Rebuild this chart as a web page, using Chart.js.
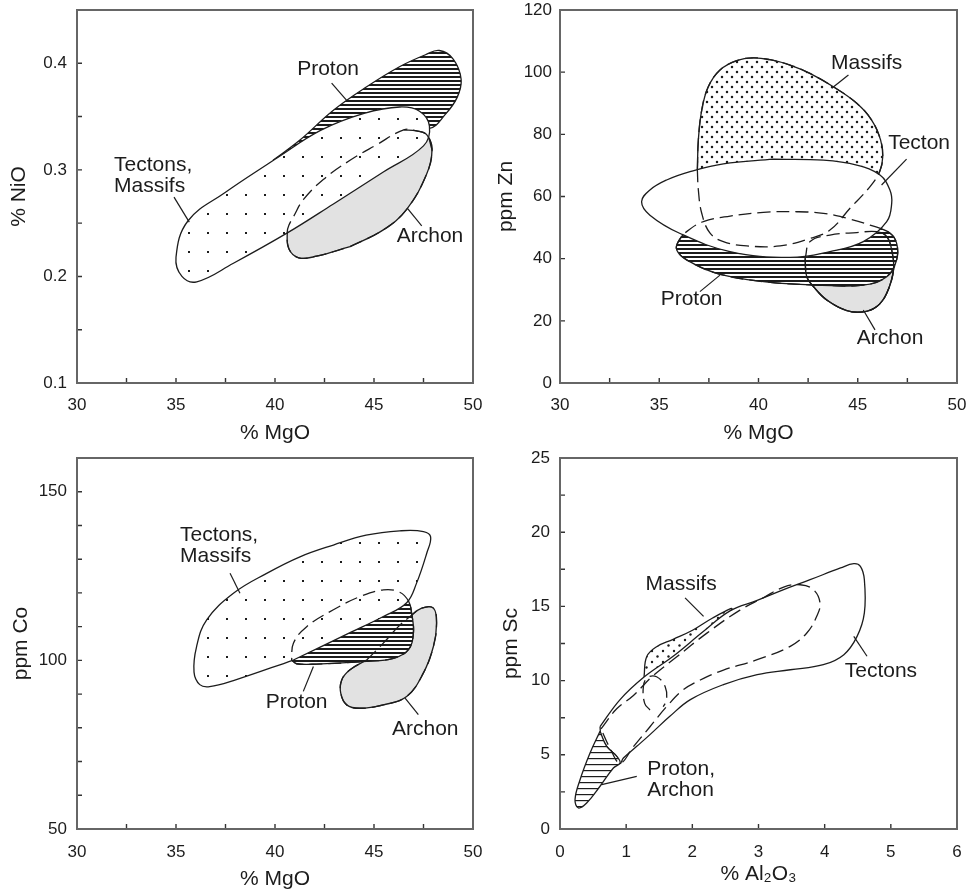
<!DOCTYPE html>
<html>
<head>
<meta charset="utf-8">
<script src="https://cdn.jsdelivr.net/npm/chart.js@4.4.1/dist/chart.umd.min.js"></script>
<style>
  html, body { margin: 0; padding: 0; background: #fff; overflow: hidden; }
  .panel { position: absolute; }
</style>
</head>
<body>
<div class="panel" style="left:0;top:0;width:485px;height:446px"><canvas id="c1"></canvas></div>
<div class="panel" style="left:485px;top:0;width:485px;height:446px"><canvas id="c2"></canvas></div>
<div class="panel" style="left:0;top:440px;width:485px;height:452px"><canvas id="c3"></canvas></div>
<div class="panel" style="left:485px;top:440px;width:485px;height:452px"><canvas id="c4"></canvas></div>
<script>
// ---- panel 1: % MgO vs % NiO ----
const p1Proton = [[39.9,0.309],[41.26,0.328],[42.95,0.356],[44.63,0.378],[46.31,0.397],[47.6,0.408],[48.3,0.412],[49.0,0.404],[49.4,0.385],[49.2,0.368],[48.6,0.352],[47.8,0.339],[46.0,0.343],[43.5,0.333],[41.5,0.320]];
const p1Tectons = [[40.0,0.310],[42.3,0.337],[44.5,0.353],[46.3,0.359],[47.3,0.355],[47.8,0.341],[47.5,0.3225],[45.47,0.298],[42.95,0.268],[40.6,0.2406],[37.9,0.2124],[36.05,0.195],[35.3,0.200],[35.0,0.218],[35.6,0.252],[37.5,0.279]];
const p1Archon = [[43.79,0.228],[45.47,0.2437],[46.65,0.263],[47.66,0.296],[47.93,0.319],[47.66,0.333],[47.15,0.3365],[46.5,0.3375],[45.13,0.3235],[43.79,0.309],[42.44,0.291],[41.43,0.272],[40.93,0.256],[40.7,0.248],[40.62,0.242],[40.7,0.226],[41.2,0.2175],[42.1,0.219]];
const p1ArchonTop = [[46.5,0.3375],[47.15,0.3365],[47.66,0.333],[47.93,0.319]];
const p1Notes = [
  {text: ['Proton'], x: 42.68, y: 0.394, align: 'center'},
  {text: ['Tectons,', 'Massifs'], x: 31.87, y: 0.304, align: 'left'},
  {text: ['Archon'], x: 47.83, y: 0.2374, align: 'center'}
];
const p1Leaders = [
  [[42.86,0.3814],[43.62,0.3651]],
  [[34.9,0.2744],[35.67,0.2509]],
  [[46.68,0.264],[47.41,0.2474]]
];

// ---- panel 2: % MgO vs ppm Zn ----
const p2Massifs = [[36.92,68.5],[36.97,78.2],[37.14,87.8],[37.47,95.3],[38.06,100.7],[38.9,103.7],[39.74,104.6],[40.58,104.0],[41.59,102.3],[42.59,99.6],[43.77,95.3],[44.95,90.0],[45.7,84.6],[46.15,78.2],[46.26,72.8],[46.1,68.0],[45.62,63.2],[44.61,56.2],[43.6,49.2],[42.6,46.5],[41.09,44.1],[39.41,44.1],[38.23,45.5],[37.56,48.2],[37.14,54.6],[36.97,62.1]];
const p2Tecton = [[40.75,72.0],[43.27,71.7],[44.95,70.1],[46.12,66.9],[46.62,62.1],[46.71,57.8],[46.46,51.9],[45.28,45.5],[43.6,42.3],[41.59,40.4],[38.56,42.3],[36.05,48.1],[34.53,54.0],[34.11,58.3],[34.53,62.1],[35.37,65.3],[36.55,68.0],[38.23,70.5]];
const p2Proton = [[42.77,31.5],[45.29,31.5],[46.46,34.2],[46.96,39.6],[46.96,44.9],[46.63,48.2],[45.62,50.8],[44.45,53.0],[43.27,54.6],[41.93,55.1],[40.25,54.9],[38.57,53.7],[37.22,51.9],[36.38,48.7],[35.96,45.5],[35.88,42.8],[36.38,39.6],[37.9,35.3],[40.25,32.6]];
const p2Archon = [[42.35,40.1],[42.43,34.2],[42.77,31.0],[43.44,26.7],[44.45,23.3],[45.29,22.9],[45.96,24.6],[46.46,28.9],[46.8,36.4],[46.71,42.8],[46.46,47.1],[45.96,48.7],[44.95,48.4],[43.6,47.6],[42.6,45.5]];
const p2Notes = [
  {text: ['Massifs'], x: 45.45, y: 102.9, align: 'center'},
  {text: ['Tecton'], x: 48.09, y: 77.1, align: 'center'},
  {text: ['Proton'], x: 36.63, y: 27.0, align: 'center'},
  {text: ['Archon'], x: 46.63, y: 14.4, align: 'center'}
];
const p2Leaders = [
  [[43.69,94.8],[44.53,99.1]],
  [[47.46,72.0],[46.2,63.7]],
  [[37.05,29.4],[38.06,34.7]],
  [[45.87,17.1],[45.28,23.5]]
];

// ---- panel 3: % MgO vs ppm Co ----
const p3Tectons = [[40.93,100.1],[43.79,108.2],[45.47,113.0],[46.65,117.1],[47.15,122.9],[47.66,131.7],[47.86,136.6],[47.5,138.2],[46.3,138.4],[44.6,137.1],[42.95,134.2],[41.26,130.7],[39.58,125.8],[37.9,119.9],[36.55,112.0],[36.04,104.1],[35.91,96.5],[36.2,92.8],[36.7,92.2],[37.9,94.0]];
const p3Proton = [[40.84,100.1],[41.09,99.0],[42.1,98.9],[44.63,99.7],[45.98,100.6],[46.73,103.1],[46.99,108.0],[46.9,114.0],[46.75,117.5],[46.3,120.2],[45.47,120.9],[44.29,118.9],[42.95,115.0],[41.6,110.0],[40.93,105.1]];
const p3Archon = [[44.63,100.1],[45.47,105.1],[46.23,110.0],[46.82,113.0],[47.41,115.5],[48.0,115.5],[48.16,111.0],[48.0,104.1],[47.49,96.2],[46.65,89.3],[45.47,86.8],[44.29,85.8],[43.62,86.8],[43.32,90.3],[43.37,94.2],[43.79,97.2]];
const p3Notes = [
  {text: ['Tectons,', 'Massifs'], x: 35.2, y: 137.2, align: 'left'},
  {text: ['Proton'], x: 41.09, y: 87.6, align: 'center'},
  {text: ['Archon'], x: 47.59, y: 79.7, align: 'center'}
];
const p3Leaders = [
  [[37.73,125.8],[38.23,119.9]],
  [[41.43,90.8],[41.94,98.2]],
  [[46.57,88.8],[47.24,83.9]]
];

// ---- panel 4: % Al2O3 vs ppm Sc ----
const p4Massifs = [[1.27,10.26],[1.31,11.61],[1.46,12.28],[1.71,12.78],[2.01,13.41],[2.3,14.2],[2.6,14.85],[2.3,13.6],[1.9,12.0],[1.5,10.6],[1.3,10.0]];
const p4Tectons = [[0.605,6.9],[0.908,8.72],[1.27,10.24],[1.71,11.64],[2.17,13.32],[2.57,14.7],[2.98,15.4],[3.38,16.13],[3.78,16.8],[4.24,17.59],[4.44,17.88],[4.54,17.7],[4.60,16.8],[4.60,14.56],[4.49,12.98],[4.29,11.75],[3.98,11.07],[3.48,10.73],[2.98,10.4],[2.47,9.73],[1.97,8.72],[1.66,7.59],[1.36,6.36],[1.16,5.57],[0.958,4.78],[0.908,4.4],[0.857,4.9],[0.706,5.57],[0.62,6.3]];
const p4ProtonArchon = [[0.605,6.58],[0.454,5.12],[0.303,3.32],[0.227,1.98],[0.277,1.42],[0.403,1.75],[0.605,2.88],[0.807,4.11],[0.908,4.45],[0.857,4.9],[0.706,5.57]];
const p4MassifsDash = [[0.62,6.75],[0.857,8.1],[1.11,9.0],[1.4,10.3],[1.765,11.6],[2.22,13.2],[2.72,14.75],[3.08,15.6],[3.38,16.3],[3.63,16.46],[3.83,16.13],[3.93,15.23],[3.88,14.33],[3.73,13.21],[3.48,12.31],[2.98,11.41],[2.47,10.71],[2.12,10.04],[1.86,9.37],[1.61,8.24],[1.36,6.89],[1.11,5.55],[0.908,4.45],[0.75,5.5]];
const p4SmallDash = [[1.36,8.02],[1.28,8.47],[1.26,9.59],[1.32,10.2],[1.46,10.26],[1.59,9.59],[1.61,8.69],[1.56,8.24]];
const p4Notes = [
  {text: ['Massifs'], x: 1.83, y: 16.51, align: 'center'},
  {text: ['Tectons'], x: 4.85, y: 10.62, align: 'center'},
  {text: ['Proton,', 'Archon'], x: 1.32, y: 4.0, align: 'left'}
];
const p4Leaders = [
  [[1.89,15.57],[2.17,14.33]],
  [[4.64,11.64],[4.44,12.98]],
  [[1.16,3.55],[0.63,2.99]]
];

const INK = '#1c1c1c';
const FONT = '"Liberation Sans", Arial, Helvetica, sans-serif';
const GRAY = '#e2e2e2';

function makePattern(w, h, draw) {
  const c = document.createElement('canvas');
  c.width = w; c.height = h;
  const g = c.getContext('2d');
  g.fillStyle = '#fff';
  g.fillRect(0, 0, w, h);
  g.fillStyle = INK;
  draw(g);
  return g.createPattern(c, 'repeat');
}
const hatch = makePattern(4, 4, g => g.fillRect(0, 0, 4, 2));
const hatchThin = makePattern(6, 6, g => g.fillRect(0, 0, 6, 1.2));
const sparseDots = (ox, oy) => makePattern(19, 19, g => g.fillRect(ox, oy, 2, 2));
const denseDots = (s, r) => makePattern(s, s, g => {
  g.beginPath(); g.arc(2, 2, r, 0, Math.PI * 2); g.fill();
  g.beginPath(); g.arc(2 + s / 2, 2 + s / 2, r, 0, Math.PI * 2); g.fill();
});

function toXY(pts) { return pts.map(p => ({x: p[0], y: p[1]})); }

function area(pts, fill) {
  return {data: toXY(pts.concat([pts[0]])), showLine: true, pointRadius: 0, borderColor: INK,
    borderWidth: 1.3, tension: 0.4, fill: 'shape', backgroundColor: fill};
}
function outline(pts, closed, dashed) {
  return {data: toXY(closed ? pts.concat([pts[0]]) : pts), showLine: true, pointRadius: 0,
    borderColor: INK, borderWidth: 1.3, tension: 0.4, fill: false,
    backgroundColor: 'transparent', borderDash: dashed ? [13, 6] : []};
}
function leaders(list) {
  return list.map(l => ({data: toXY(l), showLine: true, pointRadius: 0, borderColor: INK,
    borderWidth: 1.2, tension: 0, fill: false}));
}

const framePlugin = {
  id: 'frame',
  afterDraw(chart) {
    const {ctx, chartArea: a, scales: {x, y}} = chart;
    ctx.save();
    ctx.strokeStyle = '#333';
    ctx.lineWidth = 1.4;
    ctx.beginPath();
    x.ticks.forEach(t => {
      const px = x.getPixelForValue(t.value);
      ctx.moveTo(px, a.bottom); ctx.lineTo(px, a.bottom - 5);
    });
    y.ticks.forEach(t => {
      const py = y.getPixelForValue(t.value);
      ctx.moveTo(a.left, py); ctx.lineTo(a.left + 5, py);
    });
    ctx.stroke();
    ctx.strokeStyle = '#666';
    ctx.lineWidth = 2;
    ctx.strokeRect(a.left, a.top, a.right - a.left, a.bottom - a.top);
    ctx.restore();
  }
};

const notesPlugin = {
  id: 'notes',
  afterDatasetsDraw(chart, args, opts) {
    const {ctx, scales: {x, y}} = chart;
    ctx.save();
    ctx.fillStyle = INK;
    ctx.font = '21px ' + FONT;
    ctx.textBaseline = 'middle';
    (opts.items || []).forEach(n => {
      ctx.textAlign = n.align;
      const px = x.getPixelForValue(n.x);
      const py = y.getPixelForValue(n.y);
      n.text.forEach((line, i) => ctx.fillText(line, px, py + i * 21));
    });
    ctx.restore();
  }
};

function buildChart(id, p) {
  const layers = p.layers;
  return new Chart(document.getElementById(id), {
    type: 'scatter',
    data: {datasets: layers.map((d, i) => Object.assign({order: layers.length - i}, d))},
    options: {
      responsive: true,
      maintainAspectRatio: false,
      animation: false,
      events: [],
      layout: {padding: {top: p.padTop, right: p.padRight, left: 0, bottom: 0}},
      plugins: {legend: {display: false}, tooltip: {enabled: false}, notes: {items: p.notes}},
      scales: {
        x: {
          type: 'linear', min: p.xMin, max: p.xMax,
          afterFit: s => { s.height = p.xAxisH; s.paddingLeft = 0; s.paddingRight = 0; },
          grid: {display: false, drawTicks: false},
          border: {display: false},
          ticks: {stepSize: p.xStep, autoSkip: false, maxRotation: 0, padding: p.xPad,
            color: INK, font: {family: FONT, size: 17}, callback: p.xFmt},
          title: {display: true, text: p.xTitle, color: INK, font: {family: FONT, size: 21},
            padding: {top: 0, bottom: p.xTitlePad}}
        },
        y: {
          type: 'linear', min: p.yMin, max: p.yMax,
          afterFit: s => { s.width = p.yAxisW; s.paddingTop = 0; s.paddingBottom = 0; },
          grid: {display: false, drawTicks: false},
          border: {display: false},
          ticks: {stepSize: p.yStep, autoSkip: false, padding: p.yPad,
            color: INK, font: {family: FONT, size: 17}, callback: p.yFmt},
          title: {display: true, text: p.yTitle, color: INK, font: {family: FONT, size: 21},
            padding: {top: p.yTitlePad, bottom: 0}}
        }
      }
    },
    plugins: [framePlugin, notesPlugin]
  });
}

const mgoFmt = v => (Math.round(v * 10) % 50 === 0 ? String(Math.round(v)) : '');

buildChart('c1', {
  padTop: 10, padRight: 12, yAxisW: 77, xAxisH: 63,
  xMin: 30, xMax: 50, xStep: 2.5, xFmt: mgoFmt, xPad: 12, xTitle: '% MgO', xTitlePad: 0,
  yMin: 0.1, yMax: 0.45, yStep: 0.05, yPad: 10, yTitle: '% NiO', yTitlePad: 7,
  yFmt: v => (Math.round(v * 100) % 10 === 0 ? v.toFixed(1) : ''),
  notes: p1Notes,
  layers: [
    area(p1Proton, hatch),
    area(p1Archon, GRAY),
    area(p1Tectons, sparseDots(17, 4)),
    outline(p1Archon, true, true),
    outline(p1ArchonTop, false, false)
  ].concat(leaders(p1Leaders))
});

buildChart('c2', {
  padTop: 10, padRight: 13, yAxisW: 75, xAxisH: 63,
  xMin: 30, xMax: 50, xStep: 2.5, xFmt: mgoFmt, xPad: 12, xTitle: '% MgO', xTitlePad: 0,
  yMin: 0, yMax: 120, yStep: 20, yPad: 8, yTitle: 'ppm Zn', yTitlePad: 9,
  yFmt: v => String(v),
  notes: p2Notes,
  layers: [
    area(p2Massifs, denseDots(10, 1.25)),
    area(p2Archon, GRAY),
    area(p2Proton, hatch),
    outline(p2Archon, true, false),
    area(p2Tecton, '#fff'),
    outline(p2Massifs, true, true),
    outline(p2Proton, true, true),
    outline(p2Archon, true, true)
  ].concat(leaders(p2Leaders))
});

buildChart('c3', {
  padTop: 18, padRight: 12, yAxisW: 77, xAxisH: 63,
  xMin: 30, xMax: 50, xStep: 2.5, xFmt: mgoFmt, xPad: 13, xTitle: '% MgO', xTitlePad: 0,
  yMin: 50, yMax: 160, yStep: 10, yPad: 10, yTitle: 'ppm Co', yTitlePad: 9,
  yFmt: v => (v % 50 === 0 ? String(v) : ''),
  notes: p3Notes,
  layers: [
    area(p3Archon, GRAY),
    area(p3Proton, hatch),
    outline(p3Archon, true, true),
    area(p3Tectons, sparseDots(17, 7)),
    outline(p3Proton, true, true)
  ].concat(leaders(p3Leaders))
});

buildChart('c4', {
  padTop: 18, padRight: 13, yAxisW: 75, xAxisH: 63,
  xMin: 0, xMax: 6, xStep: 1, xFmt: v => String(v), xPad: 13, xTitle: '% Al\u2082O\u2083', xTitlePad: 5,
  yMin: 0, yMax: 25, yStep: 2.5, yPad: 10, yTitle: 'ppm Sc', yTitlePad: 14,
  yFmt: v => (Math.round(v * 10) % 50 === 0 ? String(Math.round(v)) : ''),
  notes: p4Notes,
  layers: [
    area(p4Massifs, denseDots(11, 1.2)),
    area(p4Tectons, '#fff'),
    area(p4ProtonArchon, hatchThin),
    outline(p4MassifsDash, true, true),
    outline(p4SmallDash, false, true)
  ].concat(leaders(p4Leaders))
});
</script>
</body>
</html>
